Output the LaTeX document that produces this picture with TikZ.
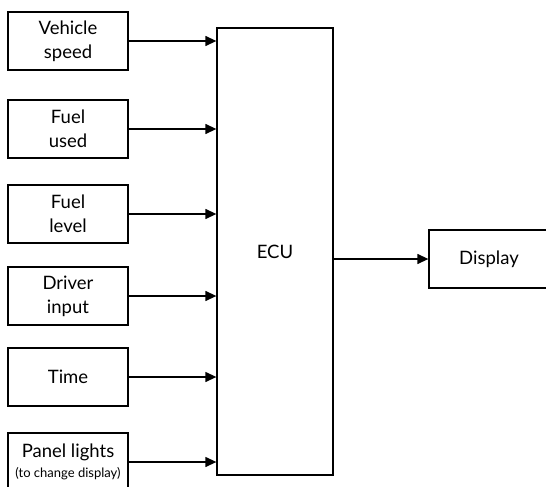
\documentclass[tikz,border=0pt]{standalone}
\usepackage{fontspec}
\setmainfont{Lato}
\usepackage{tikz}
\usetikzlibrary{arrows.meta}

\begin{document}
\begin{tikzpicture}[x=1pt,y=-1pt,
    inbox/.style={draw, line width=1.3pt, minimum width=120pt, minimum height=58pt,
      align=center, font=\fontsize{18.5}{24}\selectfont, inner sep=0pt},
    feed/.style={-{Triangle[length=11pt,width=10pt]}, line width=1.3pt}]
    \clip (0,0) rectangle (546,487);

    \node[inbox] (speed) at (68,41) {Vehicle\\speed};
    \node[inbox] (used) at (68,129) {Fuel\\used};
    \node[inbox] (level) at (68,214) {Fuel\\level};
    \node[inbox] (driver) at (68,296) {Driver\\input};
    \node[inbox] (time) at (68,377) {Time};
    \node[inbox] (lights) at (68,462) {Panel lights\\[-4pt]{\fontsize{13}{14}\selectfont (to change display)}};

    \node[inbox, minimum width=116pt, minimum height=447pt] (ecu) at (275,251.5) {ECU};
    \node[inbox] (disp) at (489,259) {Display};

    \foreach \src in {speed,used,level,driver,time,lights}
        \draw[feed] (\src.east) -- (\src.east -| ecu.west);
    \draw[feed] (ecu.east |- disp.west) -- (disp.west);
\end{tikzpicture}
\end{document}
